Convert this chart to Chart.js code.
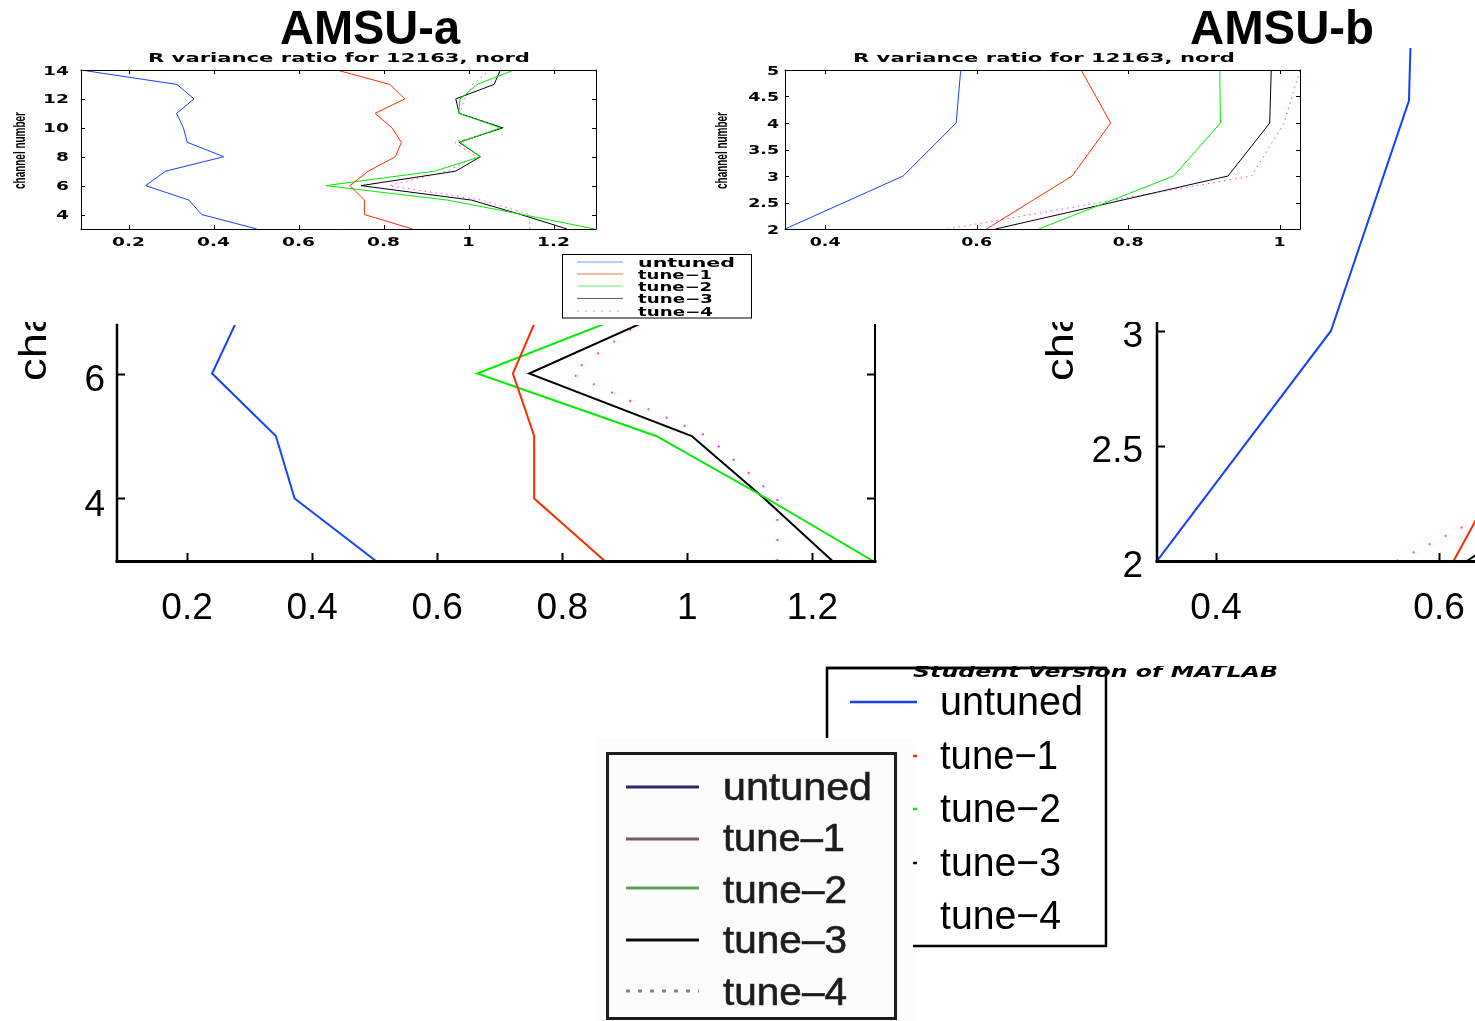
<!DOCTYPE html>
<html>
<head>
<meta charset="utf-8">
<title>AMSU-a / AMSU-b R variance ratio</title>
<script src="https://cdn.jsdelivr.net/npm/chart.js@4.4.0/dist/chart.umd.min.js"></script>
<style>
  html, body { margin: 0; padding: 0; background: #fff; }
  body { position: relative; width: 1475px; height: 1021px; overflow: hidden; font-family: "Liberation Sans", Arial, sans-serif; }
  canvas, svg, .cover { position: absolute; }
</style>
</head>
<body>
<canvas id="bigA" width="900" height="320" style="left:0;top:320px;z-index:1"></canvas>
<canvas id="bigB" width="900" height="600" style="left:1050px;top:40px;z-index:1"></canvas>
<svg id="under" width="1475" height="1021" style="left:0;top:0;z-index:1"></svg>
<div class="cover" style="left:0;top:0;width:1313px;height:322px;background:#fff;z-index:2"></div>
<canvas id="smallA" width="610" height="200" style="left:0;top:50px;z-index:3"></canvas>
<canvas id="smallB" width="612" height="200" style="left:700px;top:50px;z-index:3"></canvas>
<svg id="over" width="1475" height="1021" style="left:0;top:0;z-index:4"></svg>

<script>
// series names (legend order)
const seriesNames = ["untuned", "tune\u22121", "tune\u22122", "tune\u22123", "tune\u22124"];
const lineColors = ["#1440ff", "#ff2a00", "#00ee00", "#000000", "#ff33ff"];

// AMSU-a : channels 3..14
const amsuaChannels = [3, 4, 5, 6, 7, 8, 9, 10, 11, 12, 13, 14];
const amsuaUntuned = [0.502, 0.372, 0.342, 0.240, 0.287, 0.424, 0.338, 0.329, 0.313, 0.354, 0.314, 0.088];
const amsuaTune1   = [0.868, 0.755, 0.755, 0.721, 0.764, 0.828, 0.842, 0.820, 0.780, 0.850, 0.815, 0.690];
const amsuaTune2   = [1.297, 1.127, 0.950, 0.664, 0.920, 1.028, 0.980, 1.075, 0.977, 0.980, 1.020, 1.107];
const amsuaTune3   = [1.232, 1.123, 1.007, 0.747, 0.970, 1.028, 0.978, 1.080, 0.978, 0.970, 1.060, 1.075];
const amsuaTune4   = [1.144, 1.144, 1.031, 0.813, 0.950, 1.018, 0.967, 1.085, 0.980, 0.990, 1.010, 1.050];

// AMSU-b : channels 2..5
const amsubChannels = [2, 3, 4, 5];
const amsubUntuned = [0.347, 0.503, 0.573, 0.579];
const amsubTune1   = [0.613, 0.726, 0.777, 0.738];
const amsubTune2   = [0.682, 0.860, 0.922, 0.921];
const amsubTune3   = [0.625, 0.932, 0.987, 0.989];
const amsubTune4   = [0.562, 0.963, 1.006, 1.027];

// tick labels
const amsuaXTicks = [0.2, 0.4, 0.6, 0.8, 1, 1.2];
const amsuaYTicks = [4, 6, 8, 10, 12, 14];
const amsuaBigYTicks = [4, 6];
const amsubXTicks = [0.4, 0.6, 0.8, 1];
const amsubYTicks = [2, 2.5, 3, 3.5, 4, 4.5, 5];

const fmt = v => String(Math.round(v * 100) / 100);

// MATLAB-like box, inward ticks and stretched tick labels
function framePlugin(f) {
  return {
    id: "matFrame",
    afterDraw(chart) {
      const { ctx, chartArea: a, scales: { x, y } } = chart;
      ctx.save();
      ctx.strokeStyle = "#000";
      ctx.fillStyle = "#000";
      ctx.lineWidth = f.tickWidth;
      ctx.beginPath();
      f.xTicks.forEach(v => {
        const px = Math.round(x.getPixelForValue(v)) + 0.5;
        if (f.xTickSides.includes("bottom")) { ctx.moveTo(px, a.bottom); ctx.lineTo(px, a.bottom - f.tickLen); }
        if (f.xTickSides.includes("top")) { ctx.moveTo(px, a.top); ctx.lineTo(px, a.top + f.tickLen); }
      });
      f.yTicks.forEach(v => {
        const py = Math.round(y.getPixelForValue(v)) + 0.5;
        if (f.yTickSides.includes("left")) { ctx.moveTo(a.left, py); ctx.lineTo(a.left + f.tickLen, py); }
        if (f.yTickSides.includes("right")) { ctx.moveTo(a.right, py); ctx.lineTo(a.right - f.tickLen, py); }
      });
      ctx.stroke();

      const s = f.sides;
      const off = w => (w % 2 === 1 ? 0.5 : 0);
      const L = Math.round(a.left), R = Math.round(a.right), T = Math.round(a.top), B = Math.round(a.bottom);
      ctx.lineCap = "square";
      if (s.left) { ctx.lineWidth = s.left; ctx.beginPath(); ctx.moveTo(L + off(s.left), T); ctx.lineTo(L + off(s.left), B); ctx.stroke(); }
      if (s.right) { ctx.lineWidth = s.right; ctx.beginPath(); ctx.moveTo(R + off(s.right), T); ctx.lineTo(R + off(s.right), B); ctx.stroke(); }
      if (s.top) { ctx.lineWidth = s.top; ctx.beginPath(); ctx.moveTo(L, T + off(s.top)); ctx.lineTo(R, T + off(s.top)); ctx.stroke(); }
      if (s.bottom) { ctx.lineWidth = s.bottom; ctx.beginPath(); ctx.moveTo(L, B + off(s.bottom)); ctx.lineTo(R, B + off(s.bottom)); ctx.stroke(); }

      ctx.font = f.font;
      ctx.textBaseline = "alphabetic";
      f.xTicks.forEach(v => {
        ctx.save();
        ctx.translate(x.getPixelForValue(v), a.bottom + f.xLabelBase);
        ctx.scale(f.sx, 1);
        ctx.textAlign = "center";
        ctx.fillText(fmt(v), 0, 0);
        ctx.restore();
      });
      f.yLabels.forEach(v => {
        ctx.save();
        ctx.translate(a.left - f.yLabelGap, y.getPixelForValue(v) + f.yLabelShift);
        ctx.scale(f.sx, 1);
        ctx.textAlign = "right";
        ctx.fillText(fmt(v), 0, 0);
        ctx.restore();
      });
      ctx.restore();
    }
  };
}

function makeChart(id, channels, series, cfg) {
  const datasets = series.map((vals, i) => ({
    label: seriesNames[i],
    data: vals.map((v, k) => ({ x: v, y: channels[k] })),
    borderColor: lineColors[i],
    borderWidth: cfg.lw,
    borderDash: i === 4 ? cfg.dash : [],
    pointRadius: 0,
    showLine: true,
    tension: 0
  }));
  return new Chart(document.getElementById(id), {
    type: "scatter",
    data: { datasets },
    options: {
      responsive: false,
      animation: false,
      devicePixelRatio: 1,
      events: [],
      layout: { padding: cfg.pad },
      scales: {
        x: { type: "linear", display: false, min: cfg.xmin, max: cfg.xmax },
        y: { type: "linear", display: false, min: cfg.ymin, max: cfg.ymax }
      },
      plugins: { legend: { display: false }, tooltip: { enabled: false } }
    },
    plugins: [framePlugin(cfg.frame)]
  });
}

const amsuaSeries = [amsuaUntuned, amsuaTune1, amsuaTune2, amsuaTune3, amsuaTune4];
const amsubSeries = [amsubUntuned, amsubTune1, amsubTune2, amsubTune3, amsubTune4];

// enlarged AMSU-a (cropped at the top)
makeChart("bigA", amsuaChannels, amsuaSeries, {
  lw: 2, dash: [2, 18],
  pad: { left: 117, top: 5, right: 25, bottom: 79 },
  xmin: 0.088, xmax: 1.30, ymin: 3, ymax: 6.776,
  frame: {
    sides: { left: 2.5, bottom: 3, right: 2 }, tickLen: 8, tickWidth: 2,
    xTicks: amsuaXTicks, yTicks: amsuaBigYTicks, yLabels: amsuaBigYTicks,
    xTickSides: ["bottom"], yTickSides: ["left", "right"],
    font: '37px "Liberation Sans"', sx: 1, xLabelBase: 58, yLabelGap: 12, yLabelShift: 17
  }
});

// enlarged AMSU-b (runs off the right edge)
makeChart("bigB", amsubChannels, amsubSeries, {
  lw: 2, dash: [2, 16],
  pad: { left: 107, top: 8, right: 35, bottom: 79 },
  xmin: 0.347, xmax: 1.027, ymin: 2, ymax: 4.23,
  frame: {
    sides: { left: 2.5, bottom: 3 }, tickLen: 8, tickWidth: 2,
    xTicks: amsubXTicks, yTicks: amsubYTicks, yLabels: amsubYTicks,
    xTickSides: ["bottom"], yTickSides: ["left"],
    font: '37px "Liberation Sans"', sx: 1, xLabelBase: 58, yLabelGap: 14, yLabelShift: 16
  }
});

// small AMSU-a
makeChart("smallA", amsuaChannels, amsuaSeries, {
  lw: 1, dash: [1.5, 4],
  pad: { left: 81, top: 20, right: 14, bottom: 21 },
  xmin: 0.088, xmax: 1.30, ymin: 3, ymax: 14,
  frame: {
    sides: { left: 1, bottom: 1, right: 1, top: 1 }, tickLen: 4, tickWidth: 1,
    xTicks: amsuaXTicks, yTicks: amsuaYTicks, yLabels: amsuaYTicks,
    xTickSides: ["bottom", "top"], yTickSides: ["left", "right"],
    font: 'bold 12px "DejaVu Sans"', sx: 1.55, xLabelBase: 17, yLabelGap: 12, yLabelShift: 4.5
  }
});

// small AMSU-b
makeChart("smallB", amsubChannels, amsubSeries, {
  lw: 1, dash: [1.5, 4],
  pad: { left: 85, top: 20, right: 12, bottom: 21 },
  xmin: 0.347, xmax: 1.027, ymin: 2, ymax: 5,
  frame: {
    sides: { left: 1, bottom: 1, right: 1, top: 1 }, tickLen: 4, tickWidth: 1,
    xTicks: amsubXTicks, yTicks: amsubYTicks, yLabels: amsubYTicks,
    xTickSides: ["bottom", "top"], yTickSides: ["left", "right"],
    font: 'bold 12px "DejaVu Sans"', sx: 1.45, xLabelBase: 17, yLabelGap: 6, yLabelShift: 4.5
  }
});

// ---- text layers ----
document.getElementById("under").innerHTML =
  '<text transform="translate(46,381) rotate(-90)" font-family="Liberation Sans" font-size="38" textLength="325" lengthAdjust="spacingAndGlyphs">channel number</text>' +
  '<text transform="translate(1073,381) rotate(-90)" font-family="Liberation Sans" font-size="38" textLength="325" lengthAdjust="spacingAndGlyphs">channel number</text>';

let over = "";
over += '<defs><filter id="soft"><feGaussianBlur stdDeviation="0.6"/></filter></defs>';
// titles
over += '<text x="280" y="44" font-family="Liberation Sans" font-weight="bold" font-size="48" textLength="180" lengthAdjust="spacingAndGlyphs">AMSU-a</text>';
over += '<text x="1190" y="44" font-family="Liberation Sans" font-weight="bold" font-size="48" textLength="184" lengthAdjust="spacingAndGlyphs">AMSU-b</text>';
[148, 853].forEach(x0 => {
  over += '<text x="' + x0 + '" y="62" font-family="DejaVu Sans" font-weight="bold" font-size="12" textLength="382" lengthAdjust="spacingAndGlyphs">R variance ratio for 12163, nord</text>';
});
[25, 727].forEach(x0 => {
  over += '<text transform="translate(' + x0 + ',189) rotate(-90)" font-family="Liberation Sans" font-weight="bold" font-size="16" textLength="77" lengthAdjust="spacingAndGlyphs">channel number</text>';
});

// small legend
over += '<rect x="562.5" y="254.5" width="189" height="63.5" fill="#fff" stroke="#000" stroke-width="1"/>';
const smallRows = [262, 274, 286, 298.5, 311];
const smallLens = [97, 74, 74, 75, 75];
const smallCols = ["#7f9cff", "#ff7350", "#66f066", "#606060", "#ff70ff"];
seriesNames.forEach((n, i) => {
  over += '<line x1="577" x2="623" y1="' + smallRows[i] + '" y2="' + smallRows[i] + '" stroke="' + smallCols[i] + '" stroke-width="1.2"' + (i === 4 ? ' stroke-dasharray="2 6"' : '') + '/>';
  over += '<text x="638" y="' + (smallRows[i] + 4.5) + '" font-family="DejaVu Sans" font-weight="bold" font-size="12" textLength="' + smallLens[i] + '" lengthAdjust="spacingAndGlyphs">' + n + '</text>';
});

// large legend (lower right)
over += '<rect x="827" y="668" width="279" height="278" fill="#fff" stroke="#000" stroke-width="2.5"/>';
const bigRows = [715, 769, 822, 876, 929];
const bigLens = [143, 118, 121, 121, 121];
seriesNames.forEach((n, i) => {
  over += '<line x1="850" x2="917" y1="' + (bigRows[i] - 13) + '" y2="' + (bigRows[i] - 13) + '" stroke="' + lineColors[i] + '" stroke-width="2.5"' + (i === 4 ? ' stroke-dasharray="2 10"' : '') + '/>';
  over += '<text x="940" y="' + bigRows[i] + '" font-family="Liberation Sans" font-size="40" textLength="' + bigLens[i] + '" lengthAdjust="spacingAndGlyphs">' + n + '</text>';
});
over += '<text x="913" y="677" font-family="DejaVu Sans" font-weight="bold" font-style="italic" font-size="15" textLength="365" lengthAdjust="spacingAndGlyphs">Student Version of MATLAB</text>';
over += '<rect x="905" y="640" width="390" height="26" fill="#fff"/>';
over += '<line x1="827" x2="1106" y1="668" y2="668" stroke="#000" stroke-width="2.5"/>';

// pasted bitmap legend (lower left)
over += '<rect x="598" y="738" width="315" height="283" fill="#fcfcfc"/>';
over += '<g filter="url(#soft)">';
over += '<rect x="607.5" y="753.5" width="288" height="265" fill="none" stroke="#1a1a1a" stroke-width="3"/>';
const bmRows = [787, 839, 888, 940, 991];
const bmText = [800, 851, 903, 953, 1005];
const bmLens = [149, 122, 124, 124, 124];
const bmCols = ["#2a2a6a", "#7a5a5a", "#5aa05a", "#111111", "#8a7aa0"];
seriesNames.forEach((n, i) => {
  over += '<line x1="626" x2="699" y1="' + bmRows[i] + '" y2="' + bmRows[i] + '" stroke="' + bmCols[i] + '" stroke-width="3"' + (i === 4 ? ' stroke-dasharray="4 8"' : '') + '/>';
  over += '<text x="723" y="' + bmText[i] + '" font-family="Liberation Sans" font-size="38" fill="#1e1e1e" stroke="#1e1e1e" stroke-width="0.6" textLength="' + bmLens[i] + '" lengthAdjust="spacingAndGlyphs">' + n.replace("\u2212", "\u2013") + '</text>';
});
over += '</g>';
document.getElementById("over").innerHTML = over;
</script>
</body>
</html>
